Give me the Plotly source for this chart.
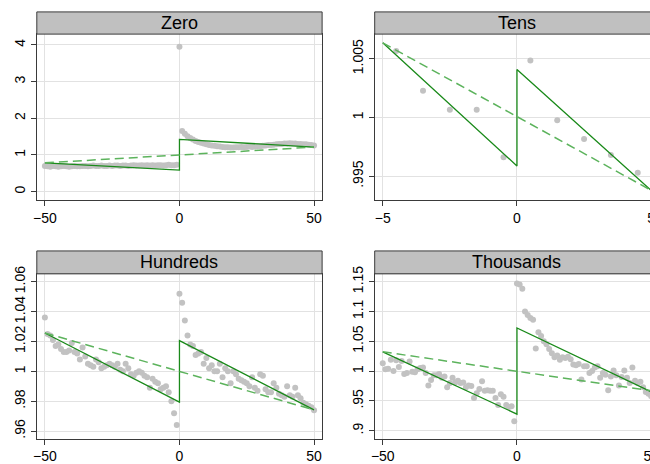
import plotly.graph_objects as go

# ---------------- data ----------------
x_int = list(range(-50, 51))

zero_y = [0.70, 0.69, 0.68, 0.70, 0.69, 0.68, 0.69, 0.70, 0.69, 0.68,
          0.69, 0.70, 0.69, 0.69, 0.70, 0.70, 0.69, 0.70, 0.71, 0.70,
          0.70, 0.71, 0.70, 0.70, 0.71, 0.70, 0.71, 0.71, 0.70, 0.71,
          0.71, 0.70, 0.71, 0.72, 0.71, 0.71, 0.72, 0.71, 0.72, 0.71,
          0.72, 0.71, 0.72, 0.72, 0.71, 0.72, 0.73, 0.72, 0.72, 0.73,
          3.95,
          1.65, 1.58, 1.51, 1.46, 1.42, 1.38, 1.35, 1.33, 1.31, 1.29,
          1.27, 1.26, 1.25, 1.24, 1.23, 1.22, 1.21, 1.21, 1.20, 1.20,
          1.21, 1.21, 1.22, 1.21, 1.22, 1.23, 1.22, 1.23, 1.24, 1.24,
          1.25, 1.26, 1.27, 1.27, 1.28, 1.29, 1.30, 1.30, 1.31, 1.31,
          1.32, 1.31, 1.31, 1.30, 1.30, 1.29, 1.29, 1.28, 1.27, 1.26]

tens_x = [-4.5, -3.5, -2.5, -1.5, -0.5, 0.5, 1.5, 2.5, 3.5, 4.5]
tens_y = [1.00567, 1.00227, 1.00067, 1.00067, 0.99661,
          1.00486, 0.99977, 0.99817, 0.99680, 0.99530]

hundreds_y = [1.036, 1.025, 1.024, 1.021, 1.017, 1.018, 1.015, 1.013, 1.013, 1.014,
              1.019, 1.013, 1.012, 1.008, 1.016, 1.010, 1.005, 1.004, 1.003, 1.008,
              1.006, 1.002, 1.003, 1.004, 1.005, 1.004, 1.003, 1.005, 1.001, 1.000,
              1.005, 1.002, 0.998, 0.997, 0.999, 1.000, 0.999, 0.997, 0.996, 0.989,
              0.995, 0.993, 0.992, 0.988, 0.989, 0.990, 0.986, 0.980, 0.972, 0.964,
              1.052,
              1.046, 1.034, 1.024, 1.018, 1.017, 1.011, 1.012, 1.013, 1.005, 1.009,
              1.002, 1.004, 1.000, 1.000, 1.005, 0.996, 1.002, 1.000, 0.992, 1.000,
              0.998, 0.995, 0.994, 0.993, 0.992, 0.990, 0.996, 0.989, 0.987, 0.998,
              0.997, 0.988, 0.986, 0.986, 0.992, 0.989, 0.985, 0.984, 0.983, 0.990,
              0.984, 0.983, 0.989, 0.984, 0.982, 0.979, 0.978, 0.977, 0.976, 0.974]

thousands_y = [1.013, 1.003, 1.004, 1.019, 1.000, 1.018, 1.007, 1.017, 0.995, 0.997,
               1.016, 0.999, 0.998, 1.003, 1.005, 1.006, 0.997, 0.976, 0.985, 0.993,
               0.993, 0.995, 0.989, 0.991, 0.973, 0.980, 0.989, 0.981, 0.984, 0.980,
               0.981, 0.973, 0.976, 0.975, 0.955, 0.963, 0.970, 0.983, 0.967, 0.968,
               0.967, 0.967, 0.955, 0.943, 0.961, 0.957, 0.943, 0.940, 0.941, 0.916,
               1.147,
               1.145, 1.138, 1.100, 1.094, 1.089, 1.086, 1.038, 1.065, 1.059, 1.050,
               1.045, 1.037, 1.030, 1.023, 1.026, 1.019, 1.023, 1.022, 1.024, 1.020,
               1.011, 1.010, 1.012, 0.986, 1.008, 1.008, 0.997, 1.000, 1.006, 1.008,
               0.989, 0.997, 0.994, 0.968, 0.991, 1.001, 0.993, 0.976, 0.990, 1.001,
               0.989, 0.980, 1.006, 0.984, 0.980, 0.982, 0.973, 0.965, 0.962, 0.958]

# fitted lines (piecewise with jump at 0, and single line)
fit_x = [-50, 0, 0, 50]
tens_fit_x = [-5, 0, 0, 5]
lin_x = [-50, 50]
tens_lin_x = [-5, 5]

zero_fit = [0.785, 0.585, 1.425, 1.215]
zero_lin = [0.785, 1.215]
tens_fit = [1.00636, 0.99588, 1.00408, 0.99380]
tens_lin = [1.00636, 0.99380]
hundreds_fit = [1.0257, 0.9794, 1.0206, 0.9742]
hundreds_lin = [1.0257, 0.9742]
thousands_fit = [1.0323, 0.9279, 1.0724, 0.9654]
thousands_lin = [1.0323, 0.9672]

titles = ["Zero", "Tens", "Hundreds", "Thousands"]

zero_ticks = [0, 1, 2, 3, 4]
zero_tick_text = ["0", "1", "2", "3", "4"]
tens_ticks = [0.995, 1.0, 1.005]
tens_tick_text = [".995", "1", "1.005"]
hundreds_ticks = [0.96, 0.98, 1.0, 1.02, 1.04, 1.06]
hundreds_tick_text = [".96", ".98", "1", "1.02", "1.04", "1.06"]
thousands_ticks = [0.9, 0.95, 1.0, 1.05, 1.1, 1.15]
thousands_tick_text = [".9", ".95", "1", "1.05", "1.1", "1.15"]
x_ticks_wide = [-50, 0, 50]
x_ticks_tens = [-5, 0, 5]

# ---------------- layout geometry ----------------
W, H = 678, 464
FONT = "Liberation Sans, Arial, Helvetica, sans-serif"
GRAY_PT = "#c2c2c2"
SOLID = "#1a8a1a"
DASHED = "#5cb35c"
GRID = "#e2e2e2"
FRAME = "#3a3a3a"

def px_x(p):
    return p / W

def px_y(p):
    return (H - p) / H

cols = [(33, 320), (372.9, 659.1)]
rows = [(26.7, 196.7, 4.0), (271.7, 440.0, 248.3)]  # plot top, plot bottom, title top

panels = [
    dict(x=x_int, y=zero_y, fx=fit_x, fy=zero_fit, lx=lin_x, ly=zero_lin,
         xr=[-53, 53], yr=[-0.24, 4.293], xt=x_ticks_wide, yt=zero_ticks, ytt=zero_tick_text, r=0, c=0),
    dict(x=tens_x, y=tens_y, fx=tens_fit_x, fy=tens_fit, lx=tens_lin_x, ly=tens_lin,
         xr=[-5.3, 5.3], yr=[0.99294, 1.0071], xt=x_ticks_tens, yt=tens_ticks, ytt=tens_tick_text, r=0, c=1),
    dict(x=x_int, y=hundreds_y, fx=fit_x, fy=hundreds_fit, lx=lin_x, ly=hundreds_lin,
         xr=[-53, 53], yr=[0.955, 1.0653], xt=x_ticks_wide, yt=hundreds_ticks, ytt=hundreds_tick_text, r=1, c=0),
    dict(x=x_int, y=thousands_y, fx=fit_x, fy=thousands_fit, lx=lin_x, ly=thousands_lin,
         xr=[-53, 53], yr=[0.887, 1.163], xt=x_ticks_wide, yt=thousands_ticks, ytt=thousands_tick_text, r=1, c=1),
]

fig = go.Figure()
shapes = []
annotations = []
layout = {}

for i, p in enumerate(panels):
    n = "" if i == 0 else str(i + 1)
    xa, ya = "x" + n, "y" + n
    x0, x1 = cols[p["c"]]
    top, bot, ttop = rows[p["r"]]
    fig.add_trace(go.Scatter(x=p["x"], y=p["y"], mode="markers", xaxis=xa, yaxis=ya,
                             marker=dict(size=6, color=GRAY_PT), showlegend=False, hoverinfo="skip"))
    fig.add_trace(go.Scatter(x=p["fx"], y=p["fy"], mode="lines", xaxis=xa, yaxis=ya,
                             line=dict(color=SOLID, width=1.3), showlegend=False, hoverinfo="skip"))
    fig.add_trace(go.Scatter(x=p["lx"], y=p["ly"], mode="lines", xaxis=xa, yaxis=ya,
                             line=dict(color=DASHED, width=1.5, dash="9px,5px"), showlegend=False, hoverinfo="skip"))
    layout["xaxis" + n] = dict(
        domain=[px_x(x0), px_x(x1)], range=p["xr"], anchor=ya,
        tickvals=p["xt"], ticks="outside", ticklen=5, tickcolor=FRAME,
        showgrid=True, gridcolor=GRID, gridwidth=1, zeroline=False,
        showline=True, linecolor=FRAME, linewidth=1, mirror=True,
        tickfont=dict(family=FONT, size=14, color="black"),
    )
    layout["yaxis" + n] = dict(
        domain=[px_y(bot), px_y(top)], range=p["yr"], anchor=xa,
        tickvals=p["yt"], ticktext=p["ytt"], ticks="outside", ticklen=5, tickcolor=FRAME,
        tickangle=-90,
        showgrid=True, gridcolor=GRID, gridwidth=1, zeroline=False,
        showline=True, linecolor=FRAME, linewidth=1, mirror=True,
        tickfont=dict(family=FONT, size=14, color="black"),
    )
    shapes.append(dict(type="rect", xref="paper", yref="paper",
                       x0=px_x(x0), x1=px_x(x1), y0=px_y(top), y1=px_y(ttop),
                       fillcolor="#c0c0c0", line=dict(color=FRAME, width=1), layer="above"))
    annotations.append(dict(xref="paper", yref="paper", x=(px_x(x0) + px_x(x1)) / 2,
                            y=(px_y(top) + px_y(ttop)) / 2, text=titles[i], showarrow=False,
                            xanchor="center", yanchor="middle",
                            font=dict(family=FONT, size=18, color="black")))

fig.update_layout(
    width=W, height=H, margin=dict(l=0, r=0, t=0, b=0),
    paper_bgcolor="white", plot_bgcolor="white",
    shapes=shapes, annotations=annotations, **layout,
)

fig.write_html("out.html", config={"displayModeBar": False},
               post_script="document.documentElement.style.overflow='hidden';"
                           "document.body.style.overflow='hidden';document.body.style.margin='0';")
